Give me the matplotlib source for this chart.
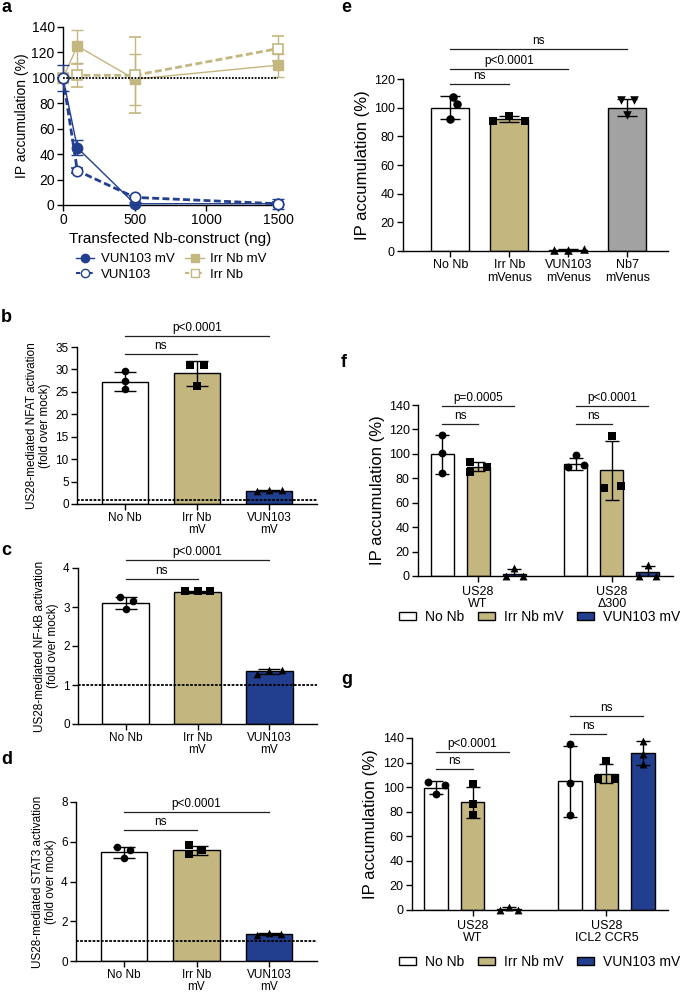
import matplotlib
matplotlib.use('Agg')
import matplotlib.pyplot as plt
import numpy as np
from matplotlib.patches import Patch
from matplotlib.lines import Line2D

plt.rcParams['font.family'] = ['Liberation Sans', 'DejaVu Sans']
plt.rcParams['axes.linewidth'] = 1.0
plt.rcParams['xtick.major.width'] = 1.0
plt.rcParams['ytick.major.width'] = 1.0
plt.rcParams['xtick.major.size'] = 4
plt.rcParams['ytick.major.size'] = 4

W, H = 685, 992
BLUE = '#223f8f'
TAN = '#c3b67f'
GRAY = '#a2a2a2'

# ---------------- data ----------------
# panel a
a_dose = [0, 100, 500, 1500]
a_vun_mv = [100, 45, 1, 1]
a_vun_mv_err = [10, 6, 1, 4]
a_vun = [100, 27, 6, 1]
a_vun_err = [0, 2, 1, 1]
a_irr_mv = [100, 125, 99, 110]
a_irr_mv_err = [0, 13, 20, 9]
a_irr = [100, 102, 102, 123]
a_irr_err = [0, 9, 30, 10]

# panels b-d
bcd_labels = ['No Nb', 'Irr Nb\nmV', 'VUN103\nmV']
b_means = [27.3, 29.1, 3.0]
b_sd = [2.1, 2.7, 0.2]
b_pts = [[29.6, 27.5, 25.6], [30.9, 30.9, 26.4], [2.8, 3.2, 3.05]]
c_means = [3.10, 3.39, 1.35]
c_sd = [0.15, 0.02, 0.06]
c_pts = [[3.26, 3.15, 2.96], [3.40, 3.41, 3.40], [1.28, 1.38, 1.38]]
d_means = [5.46, 5.56, 1.35]
d_sd = [0.3, 0.22, 0.05]
d_pts = [[5.73, 5.6, 5.18], [5.82, 5.6, 5.4], [1.33, 1.4, 1.36]]

# panel e
e_labels = ['No Nb', 'Irr Nb\nmVenus', 'VUN103\nmVenus', 'Nb7\nmVenus']
e_means = [100, 92, 1, 100]
e_sd = [8, 2, 0.5, 6]
e_pts = [[107.4, 102.6, 92], [91, 94, 91], [0.5, 1, 1.2], [105.6, 105.6, 95]]

# panel f
f_groups = ['US28\nWT', 'US28\nΔ300']
f_means = [[99.8, 89.5, 2.0], [92.0, 86.4, 3.0]]
f_sd = [[16, 3.5, 3.5], [5, 24, 5]]
f_pts = [[[115.7, 101, 84.2], [93, 85, 89], [0, 6.3, 0]],
         [[89.6, 99, 91], [72.4, 114.8, 73.7], [0, 9, 0]]]

# panel g
g_groups = ['US28\nWT', 'US28\nICL2 CCR5']
g_means = [[99.7, 87.8, 1.0], [104.6, 111, 127.7]]
g_sd = [[5.5, 12.7, 1.5], [29, 8, 9.5]]
g_pts = [[[104, 101.9, 94.3], [102.5, 86, 77], [0, 2.7, 0]],
         [[135, 103, 77.5], [121, 107, 107], [137.8, 127, 118.8]]]

legend_names = ['No Nb', 'Irr Nb mV', 'VUN103 mV']

# ---------------- layout helpers ----------------
fig = plt.figure(figsize=(W / 100, H / 100), dpi=100)


def px_axes(l, t, r, b):
    return fig.add_axes([l / W, 1 - b / H, (r - l) / W, (b - t) / H])


def style(ax, fs=8.5):
    for s in ['top', 'right']:
        ax.spines[s].set_visible(False)
    ax.tick_params(labelsize=fs, pad=2)


def sig(ax, x1, x2, y, label, fs=8.5):
    ax.plot([x1, x2], [y, y], color='#222222', lw=0.9, clip_on=False)
    ax.annotate(label, xy=((x1 + x2) / 2, y), xytext=(0, 1.5),
                textcoords='offset points', ha='center', va='bottom',
                fontsize=fs, annotation_clip=False)


def draw_bar(ax, x, mean, sd, pts, offs, color, marker, width, cap, ms, spacing=1.0):
    ax.bar(x, mean, width, color=color, edgecolor='black', lw=1.0, zorder=2)
    ax.errorbar(x, mean, yerr=sd, color='black', capsize=cap, capthick=1.0,
                elinewidth=1.0, zorder=3, fmt='none')
    ax.scatter(np.array(offs) * spacing + x, pts, marker=marker, s=ms,
               color='black', zorder=4, clip_on=False, linewidths=0)


COLORS3 = ['white', TAN, BLUE]
MARK3 = ['o', 's', '^']

# ---------------- panel a ----------------
ax = px_axes(63, 27, 278, 205)
style(ax, 10)
ax.errorbar(a_dose, a_vun_mv, yerr=a_vun_mv_err, color=BLUE, lw=1.0, marker='o',
            ms=7.5, capsize=4, elinewidth=1, clip_on=False, zorder=4)
ax.errorbar(a_dose, a_vun, yerr=a_vun_err, color=BLUE, lw=2.0, ls=(0, (2.5, 1.2)),
            marker='o', ms=7.5, mfc='white', mew=1.2, capsize=4, elinewidth=1,
            clip_on=False, zorder=5)
ax.errorbar(a_dose, a_irr_mv, yerr=a_irr_mv_err, color=TAN, lw=1.0, marker='s',
            ms=7.5, capsize=4, elinewidth=1, clip_on=False, zorder=3)
ax.errorbar(a_dose, a_irr, yerr=a_irr_err, color=TAN, lw=2.0, ls=(0, (2.5, 1.2)),
            marker='s', ms=7.5, mfc='white', mew=1.2, capsize=4, elinewidth=1,
            clip_on=False, zorder=3)
ax.plot([a_dose[0], a_dose[-1]], [100, 100], color='black', lw=1.3, ls=(0, (1, 0.8)), zorder=6)
ax.set_xlim(0, 1500)
ax.set_ylim(0, 140)
ax.set_xticks([0, 500, 1000, 1500])
ax.set_yticks(range(0, 141, 20))
ax.set_ylabel('IP accumulation (%)', fontsize=10, labelpad=2)
ax.set_xlabel('Transfected Nb-construct (ng)', fontsize=11, labelpad=3)
handles = [
    Line2D([], [], color=BLUE, lw=1, marker='o', ms=6),
    Line2D([], [], color=BLUE, lw=1.5, ls=(0, (2, 1)), marker='o', ms=6, mfc='white'),
    Line2D([], [], color=TAN, lw=1, marker='s', ms=6),
    Line2D([], [], color=TAN, lw=1.5, ls=(0, (2, 1)), marker='s', ms=6, mfc='white'),
]
fig.legend(handles, ['VUN103 mV', 'VUN103', 'Irr Nb mV', 'Irr Nb'], ncol=2,
           loc='upper left', bbox_to_anchor=(76 / W, 1 - 253 / H), frameon=False,
           fontsize=9.5, handlelength=1.4, handletextpad=0.5, columnspacing=0.8,
           labelspacing=0.25, borderaxespad=0, borderpad=0)


# ---------------- panels b-d ----------------
def bcd_panel(rect, means, sds, pts, offs, ylim, yticks, ylabel, sig_y):
    ax = px_axes(*rect)
    style(ax, 8.5)
    for i in range(3):
        draw_bar(ax, i, means[i], sds[i], pts[i], offs[i], COLORS3[i], MARK3[i],
                 0.64, 8, 30)
    ax.axhline(1, color='black', lw=1.3, ls=(0, (1.5, 0.8)), zorder=5)
    ax.set_xlim(-0.66, 2.66)
    ax.set_ylim(*ylim)
    ax.set_yticks(yticks)
    ax.set_xticks(range(3))
    ax.set_xticklabels(bcd_labels, fontsize=8.5, linespacing=1.0)
    ax.set_ylabel(ylabel, fontsize=8.5, labelpad=3, linespacing=1.1)
    sig(ax, 0, 1, sig_y[0], 'ns')
    sig(ax, 0, 2, sig_y[1], 'p<0.0001')
    return ax


bcd_panel((77, 347, 317, 504), b_means, b_sd, b_pts,
          [[0, 0, 0], [-0.09, 0.09, 0], [-0.17, 0, 0.17]],
          (0, 35), range(0, 36, 5),
          'US28-mediated NFAT activation\n(fold over mock)', (33.4, 37.4))
bcd_panel((78, 568, 317, 724), c_means, c_sd, c_pts,
          [[-0.07, 0.11, 0.01], [-0.17, 0, 0.17], [-0.17, 0, 0.17]],
          (0, 4), range(0, 5),
          'US28-mediated NF-kB activation\n(fold over mock)', (3.72, 4.2))
bcd_panel((76, 802, 317, 961), d_means, d_sd, d_pts,
          [[-0.1, 0.09, 0], [-0.1, 0.08, -0.1], [-0.17, 0, 0.17]],
          (0, 8), range(0, 9, 2),
          'US28-mediated STAT3 activation\n(fold over mock)', (6.57, 7.5))

# ---------------- panel e ----------------
ax = px_axes(403, 79, 668, 251)
style(ax, 9)
e_colors = ['white', TAN, BLUE, GRAY]
e_marks = ['o', 's', '^', 'v']
e_offs = [[0.04, 0.12, 0.0], [-0.28, 0, 0.27], [-0.25, 0, 0.27], [-0.11, 0.11, 0]]
for i in range(4):
    draw_bar(ax, i, e_means[i], e_sd[i], e_pts[i], e_offs[i], e_colors[i], e_marks[i],
             0.65, 7, 38)
ax.set_xlim(-0.8, 3.69)
ax.set_ylim(0, 120)
ax.set_yticks(range(0, 121, 20))
ax.set_xticks(range(4))
ax.set_xticklabels(e_labels, fontsize=9, linespacing=1.1)
ax.set_ylabel('IP accumulation (%)', fontsize=12, labelpad=3)
sig(ax, 0, 1, 116.3, 'ns')
sig(ax, 0, 2, 127, 'p<0.0001')
sig(ax, 0, 3, 140.7, 'ns')


# ---------------- panels f, g ----------------
def grouped_panel(rect, groups, means, sds, pts, offs, gap, xlim, sigs, leg_y):
    ax = px_axes(*rect)
    style(ax, 9)
    for g in range(2):
        for i in range(3):
            x = g * gap + i
            draw_bar(ax, x, means[g][i], sds[g][i], pts[g][i], offs[g][i],
                     COLORS3[i], MARK3[i], 0.64, 4.8, 32)
    ax.set_xlim(*xlim)
    ax.set_ylim(0, 140)
    ax.set_yticks(range(0, 141, 20))
    ax.set_xticks([1, gap + 1])
    ax.set_xticklabels(groups, fontsize=9, linespacing=1.0)
    ax.tick_params(axis='x', pad=3)
    ax.set_ylabel('IP accumulation (%)', fontsize=12, labelpad=3)
    for (g, j, y, lab) in sigs:
        sig(ax, g * gap, g * gap + j, y, lab)
    hs = [Patch(facecolor=c, edgecolor='black', lw=1.0) for c in COLORS3]
    fig.legend(hs, legend_names, ncol=3, loc='center left',
               bbox_to_anchor=(399 / W, 1 - leg_y / H), frameon=False,
               fontsize=10, handlelength=1.2, handleheight=0.55,
               handletextpad=0.7, columnspacing=0.95, borderaxespad=0, borderpad=0)
    return ax


grouped_panel((418, 405, 673, 576), f_groups, f_means, f_sd, f_pts,
              [[[0, 0, 0], [-0.23, -0.23, 0.25], [-0.23, 0, 0.24]],
               [[-0.23, 0, 0.23], [-0.23, 0, 0.26], [-0.25, 0, 0.23]]],
              3.72, (-0.67, 6.42),
              [(0, 1, 124.4, 'ns'), (0, 2, 138.9, 'p=0.0005'),
               (1, 1, 124.4, 'ns'), (1, 2, 138.9, 'p<0.0001')], 617)
grouped_panel((412, 738, 668, 910), g_groups, g_means, g_sd, g_pts,
              [[[-0.23, 0.24, 0], [0, 0, 0], [-0.25, 0, 0.24]],
               [[0, 0, 0], [0, -0.23, 0.23], [0, 0, 0]]],
              3.67, (-0.66, 6.36),
              [(0, 1, 114.7, 'ns'), (0, 2, 128.8, 'p<0.0001'),
               (1, 1, 143, 'ns'), (1, 2, 157.6, 'ns')], 962)

# ---------------- panel letters ----------------
for lab, x, y in [('a', 1, 12), ('b', 1, 322), ('c', 1, 555), ('d', 1, 764),
                  ('e', 341, 12), ('f', 341, 367), ('g', 341, 684)]:
    fig.text(x / W, 1 - y / H, lab, fontsize=13, fontweight='bold', va='baseline', ha='left')

fig.savefig('out.png', dpi=100)
